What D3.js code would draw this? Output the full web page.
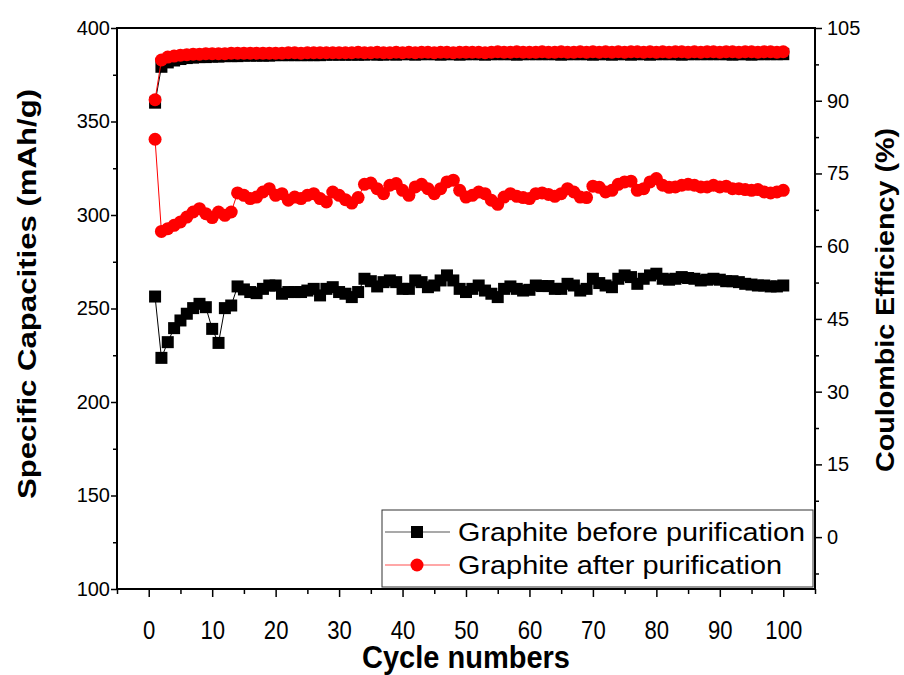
<!DOCTYPE html>
<html>
<head>
<meta charset="utf-8">
<script src="https://cdn.jsdelivr.net/npm/d3@7"></script>
<style>
  body { margin: 0; background: #fff; }
  svg text { font-family: "Liberation Sans", Arial, sans-serif; fill: #000; }
  .axis path, .axis line { stroke: #000; }
</style>
</head>
<body>
<svg id="chart" width="904" height="675"></svg>
<script>
// numero di cicli (1..100)
const cycles = d3.range(1, 101);

// capacità specifica (mAh/g) - grafite prima della purificazione
const capBefore = [
  256.4, 223.6, 232.0, 239.5, 243.6, 247.2, 250.2, 252.5, 250.7, 239.1,
  231.6, 250.2, 251.6, 261.8, 260.2, 258.8, 258.2, 260.5, 262.3, 262.3,
  257.9, 258.8, 258.8, 258.8, 259.6, 260.5, 257.0, 260.5, 261.4, 258.8,
  257.9, 256.1, 258.8, 265.9, 264.6, 261.8, 264.1, 265.0, 264.1, 260.5,
  260.5, 265.0, 264.1, 261.4, 262.3, 265.0, 267.7, 265.0, 260.5, 258.8,
  260.5, 262.3, 259.6, 257.9, 256.1, 260.5, 261.8, 260.5, 259.6, 260.0,
  262.3, 262.0, 262.0, 260.5, 260.5, 263.2, 262.3, 259.6, 260.5, 265.9,
  263.6, 262.3, 261.4, 265.9, 267.7, 266.8, 263.2, 265.9, 267.7, 268.6,
  265.9, 265.4, 265.9, 266.8, 266.3, 265.9, 265.0, 265.4, 265.9, 265.4,
  264.6, 264.6, 264.1, 263.2, 262.8, 262.3, 262.3, 261.8, 261.8, 262.3
];

// capacità specifica (mAh/g) - grafite dopo la purificazione
const capAfter = [
  340.5, 291.2, 292.7, 294.5, 296.3, 298.9, 301.6, 303.4, 300.7, 298.6,
  301.6, 299.8, 301.6, 311.8, 310.5, 308.8, 309.6, 312.3, 314.1, 310.5,
  311.4, 307.9, 309.6, 308.8, 310.5, 311.4, 308.8, 307.0, 312.3, 310.5,
  308.2, 306.4, 309.3, 316.4, 317.1, 314.1, 311.4, 315.9, 316.8, 313.2,
  310.5, 315.0, 316.4, 314.1, 311.4, 314.1, 317.7, 318.6, 313.2, 309.6,
  310.5, 312.3, 311.4, 307.9, 305.7, 309.6, 311.4, 310.0, 309.3, 308.8,
  311.4, 311.8, 311.0, 310.0, 311.4, 314.1, 312.3, 309.6, 309.3, 315.4,
  314.8, 312.3, 313.2, 316.4, 317.7, 318.1, 313.2, 314.1, 317.7, 319.5,
  315.9, 314.8, 315.0, 315.9, 316.4, 315.9, 315.0, 315.0, 315.9, 315.0,
  315.4, 314.1, 314.1, 313.6, 313.2, 313.6, 312.3, 311.8, 312.3, 313.2
];

// efficienza coulombica (%) - prima
const ceBefore = [
  89.6, 97.0, 97.9, 98.3, 98.6, 98.8, 98.9, 99.0, 99.0, 99.1,
  99.1, 99.2, 99.2, 99.2, 99.3, 99.3, 99.3, 99.3, 99.3, 99.4,
  99.4, 99.4, 99.4, 99.4, 99.4, 99.4, 99.4, 99.5, 99.5, 99.5,
  99.5, 99.5, 99.5, 99.5, 99.6, 99.5, 99.5, 99.6, 99.5, 99.6,
  99.6, 99.5, 99.6, 99.6, 99.6, 99.5, 99.6, 99.6, 99.5, 99.6,
  99.6, 99.6, 99.5, 99.6, 99.6, 99.6, 99.6, 99.5, 99.6, 99.6,
  99.6, 99.6, 99.6, 99.6, 99.5, 99.6, 99.6, 99.6, 99.6, 99.5,
  99.6, 99.6, 99.5, 99.6, 99.6, 99.5, 99.6, 99.6, 99.5, 99.6,
  99.6, 99.6, 99.6, 99.5, 99.6, 99.6, 99.6, 99.6, 99.6, 99.6,
  99.6, 99.5, 99.6, 99.6, 99.5, 99.6, 99.6, 99.6, 99.6, 99.6
];

// efficienza coulombica (%) - dopo
const ceAfter = [
  90.2, 98.4, 99.0, 99.2, 99.4, 99.5, 99.6, 99.6, 99.7, 99.7,
  99.7, 99.7, 99.8, 99.8, 99.8, 99.8, 99.8, 99.8, 99.8, 99.8,
  99.8, 99.9, 99.9, 99.8, 99.9, 99.9, 99.9, 99.9, 99.9, 99.9,
  99.9, 99.9, 100.0, 99.9, 99.9, 100.0, 99.9, 99.9, 100.0, 99.9,
  100.0, 99.9, 100.0, 100.0, 99.9, 100.0, 100.0, 99.9, 100.0, 100.0,
  100.0, 100.0, 99.9, 100.0, 100.1, 100.0, 100.0, 100.1, 100.0, 100.0,
  100.0, 100.1, 100.0, 100.0, 100.1, 100.0, 100.0, 100.1, 100.0, 100.1,
  100.0, 100.1, 100.0, 100.1, 100.0, 100.1, 100.1, 100.0, 100.1, 100.0,
  100.1, 100.0, 100.1, 100.1, 100.0, 100.1, 100.0, 100.1, 100.1, 100.0,
  100.1, 100.1, 100.0, 100.1, 100.1, 100.0, 100.1, 100.1, 100.0, 100.1
];

// tick
const xTicks = [0, 10, 20, 30, 40, 50, 60, 70, 80, 90, 100];
const xMinor = [-5, 5, 15, 25, 35, 45, 55, 65, 75, 85, 95, 105];
const yLeftTicks = [100, 150, 200, 250, 300, 350, 400];
const yLeftMinor = [125, 175, 225, 275, 325, 375];
const yRightTicks = [0, 15, 30, 45, 60, 75, 90, 105];
const yRightMinor = [-7.5, 7.5, 22.5, 37.5, 52.5, 67.5, 82.5, 97.5];

const seriesNames = ['Graphite before purification', 'Graphite after purification'];

// area del grafico
const area = { left: 117, right: 815, top: 28, bottom: 589 };

const svg = d3.select('#chart');

const x = d3.scaleLinear().domain([-5, 105]).range([area.left, area.right]);
const yL = d3.scaleLinear().domain([100, 400]).range([area.bottom, area.top]);
const yR = d3.scaleLinear().domain([-10.7, 105]).range([area.bottom, area.top]);

// cornice
svg.append('rect')
  .attr('x', area.left).attr('y', area.top)
  .attr('width', area.right - area.left).attr('height', area.bottom - area.top)
  .attr('fill', 'none').attr('stroke', '#000').attr('stroke-width', 2);

// assi
function styleAxis(g) {
  g.attr('class', 'axis');
  g.select('.domain').remove();
  g.selectAll('line').attr('stroke-width', 1.5);
}

svg.append('g').attr('transform', `translate(${area.left},0)`)
  .call(d3.axisLeft(yL).tickValues(yLeftTicks).tickSize(6).tickPadding(1))
  .call(styleAxis)
  .selectAll('text').style('font-size', '20px');
svg.append('g').attr('transform', `translate(${area.left},0)`)
  .call(d3.axisLeft(yL).tickValues(yLeftMinor).tickSize(4).tickFormat(''))
  .call(styleAxis);

svg.append('g').attr('transform', `translate(${area.right},0)`)
  .call(d3.axisRight(yR).tickValues(yRightTicks).tickSize(7).tickPadding(5))
  .call(styleAxis)
  .selectAll('text').style('font-size', '20px');
svg.append('g').attr('transform', `translate(${area.right},0)`)
  .call(d3.axisRight(yR).tickValues(yRightMinor).tickSize(4).tickFormat(''))
  .call(styleAxis);

// etichette asse x strette (come un font "narrow")
svg.append('g').attr('transform', `translate(0,${area.bottom})`)
  .call(d3.axisBottom(x).tickValues(xTicks).tickSize(8).tickPadding(24))
  .call(styleAxis)
  .selectAll('text')
  .style('font-size', '26px')
  .attr('textLength', d => String(d).length * 12.3)
  .attr('lengthAdjust', 'spacingAndGlyphs');
svg.append('g').attr('transform', `translate(0,${area.bottom})`)
  .call(d3.axisBottom(x).tickValues(xMinor).tickSize(5).tickFormat(''))
  .call(styleAxis);

// titoli assi
svg.append('text')
  .attr('x', 466).attr('y', 668)
  .attr('text-anchor', 'middle')
  .attr('textLength', 208).attr('lengthAdjust', 'spacingAndGlyphs')
  .style('font-weight', 'bold').style('font-size', '32px')
  .text('Cycle numbers');

svg.append('text')
  .attr('transform', 'translate(36,294) rotate(-90)')
  .attr('text-anchor', 'middle')
  .attr('textLength', 410).attr('lengthAdjust', 'spacingAndGlyphs')
  .style('font-weight', 'bold').style('font-size', '26px')
  .text('Specific Capacities (mAh/g)');

svg.append('text')
  .attr('transform', 'translate(894,300) rotate(-90)')
  .attr('text-anchor', 'middle')
  .attr('textLength', 344).attr('lengthAdjust', 'spacingAndGlyphs')
  .style('font-weight', 'bold').style('font-size', '26px')
  .text('Coulombic Efficiency (%)');

// dati
const plot = svg.append('g');

function drawSquares(values, yScale) {
  const line = d3.line().x((d, i) => x(cycles[i])).y(d => yScale(d));
  plot.append('path').datum(values)
    .attr('d', line).attr('fill', 'none')
    .attr('stroke', '#000').attr('stroke-width', 1);
  plot.append('g').selectAll('rect')
    .data(values).join('rect')
    .attr('x', (d, i) => x(cycles[i]) - 6)
    .attr('y', d => yScale(d) - 6)
    .attr('width', 12).attr('height', 12)
    .attr('fill', '#000');
}

function drawCircles(values, yScale) {
  const line = d3.line().x((d, i) => x(cycles[i])).y(d => yScale(d));
  plot.append('path').datum(values)
    .attr('d', line).attr('fill', 'none')
    .attr('stroke', '#ff0000').attr('stroke-width', 1);
  plot.append('g').selectAll('circle')
    .data(values).join('circle')
    .attr('cx', (d, i) => x(cycles[i]))
    .attr('cy', d => yScale(d))
    .attr('r', 6.5)
    .attr('fill', '#ff0000');
}

drawSquares(ceBefore, yR);
drawCircles(ceAfter, yR);
drawSquares(capBefore, yL);
drawCircles(capAfter, yL);

// legenda
const lg = svg.append('g');
lg.append('rect')
  .attr('x', 382).attr('y', 510)
  .attr('width', 431).attr('height', 77)
  .attr('fill', '#fff').attr('stroke', '#333').attr('stroke-width', 1);

const legRows = [
  { name: seriesNames[0], color: '#000', lineColor: '#555', y: 532, shape: 'square', len: 347 },
  { name: seriesNames[1], color: '#ff0000', lineColor: '#ff5050', y: 565, shape: 'circle', len: 324 }
];

legRows.forEach(r => {
  lg.append('line')
    .attr('x1', 385).attr('x2', 450).attr('y1', r.y).attr('y2', r.y)
    .attr('stroke', r.lineColor).attr('stroke-width', 1.2);
  if (r.shape === 'square') {
    lg.append('rect').attr('x', 411).attr('y', r.y - 6)
      .attr('width', 12).attr('height', 12).attr('fill', r.color);
  } else {
    lg.append('circle').attr('cx', 417).attr('cy', r.y).attr('r', 6.5).attr('fill', r.color);
  }
  lg.append('text')
    .attr('x', 458).attr('y', r.y + 9)
    .attr('textLength', r.len).attr('lengthAdjust', 'spacingAndGlyphs')
    .style('font-size', '25px')
    .text(r.name);
});
</script>
</body>
</html>
